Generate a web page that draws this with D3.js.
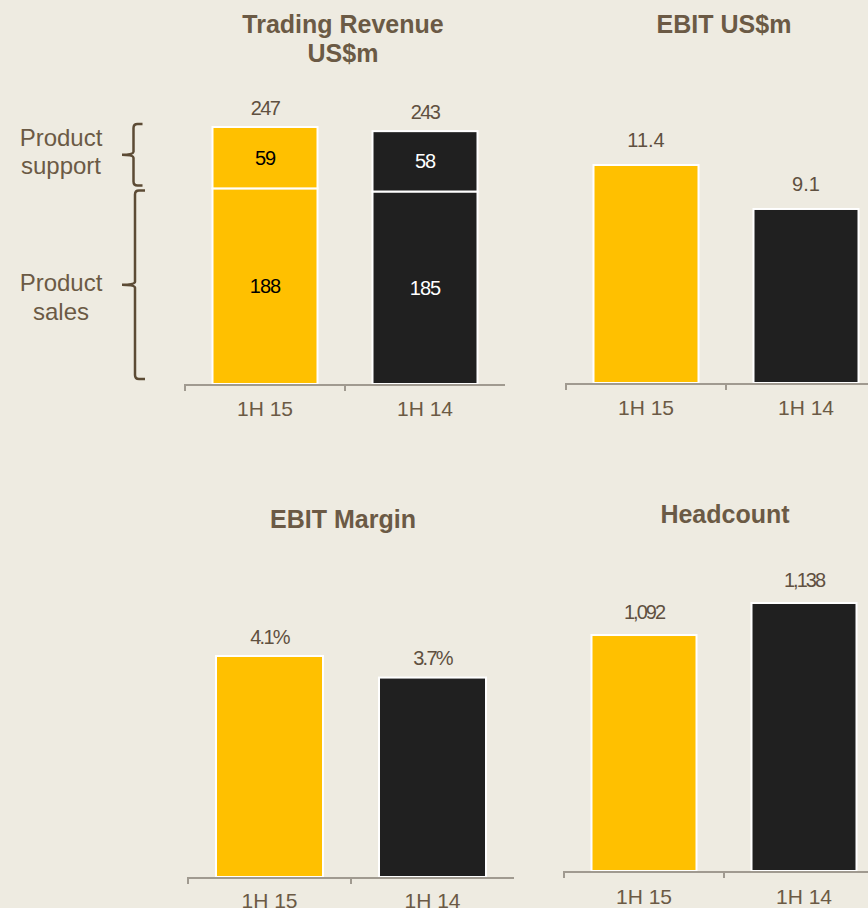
<!DOCTYPE html>
<html><head><meta charset="utf-8">
<script src="https://cdn.jsdelivr.net/npm/d3@7/dist/d3.min.js"></script>
<style>
html,body{margin:0;padding:0;background:#eeebe1;}
svg{display:block;font-family:"Liberation Sans",Arial,sans-serif;}
</style></head><body>
<script>
const categories = ["1H 15", "1H 14"];
const productSales = [188, 185];
const productSupport = [59, 58];
const revenueTotals = [247, 243];
const ebit = [11.4, 9.1];
const ebitMargin = [4.1, 3.7];
const headcount = [1092, 1138];
const headcountAxisMin = 753;
const segmentNames = [["Product", "support"], ["Product", "sales"]];

const W = 868, H = 908;
const YELLOW = "#ffc000", BLACK = "#202020", BROWN = "#6b5a45", AXIS = "#a09a90";
const svg = d3.select("body").append("svg").attr("width", W).attr("height", H);
svg.append("rect").attr("width", W).attr("height", H).attr("fill", "#eeebe1");

function panel(opts) {
  const g = svg.append("g");
  const x = d3.scaleBand().domain(categories).range(opts.xr).paddingInner(0).paddingOuter(0);
  const y = d3.scaleLinear().domain(opts.yd).range(opts.yr);
  const base = opts.yr[0];
  opts.title.forEach((t, i) => {
    g.append("text").attr("x", opts.titleX).attr("y", opts.titleY + i * 28.5)
      .attr("text-anchor", "middle").attr("font-size", 25).attr("font-weight", "bold")
      .attr("fill", BROWN).text(t);
  });
  const bw = opts.bw;
  const colors = [YELLOW, BLACK];
  if (opts.stack) {
    categories.forEach((c, i) => {
      const cx = x(c) + x.bandwidth() / 2;
      const s = opts.stack[0][i], t = opts.stack[1][i];
      g.append("rect").attr("x", cx - bw / 2).attr("y", y(s)).attr("width", bw)
        .attr("height", base - y(s)).attr("fill", colors[i]).attr("stroke", "#fff").attr("stroke-width", 2);
      g.append("rect").attr("x", cx - bw / 2).attr("y", y(s + t)).attr("width", bw)
        .attr("height", y(s) - y(s + t)).attr("fill", colors[i]).attr("stroke", "#fff").attr("stroke-width", 2);
      const inCol = i === 0 ? "#000" : "#fff";
      g.append("text").attr("x", cx).attr("y", (y(s) + base) / 2).attr("dy", "0.35em")
        .attr("text-anchor", "middle").attr("font-size", 20).attr("letter-spacing", -1).attr("fill", inCol).text(s);
      g.append("text").attr("x", cx).attr("y", (y(s) + y(s + t)) / 2).attr("dy", "0.35em")
        .attr("text-anchor", "middle").attr("font-size", 20).attr("letter-spacing", -1).attr("fill", inCol).text(t);
    });
  } else {
    categories.forEach((c, i) => {
      const cx = x(c) + x.bandwidth() / 2;
      g.append("rect").attr("x", cx - bw / 2).attr("y", y(opts.values[i])).attr("width", bw)
        .attr("height", base - y(opts.values[i])).attr("fill", colors[i]).attr("stroke", "#fff").attr("stroke-width", 2);
    });
  }
  categories.forEach((c, i) => {
    const cx = x(c) + x.bandwidth() / 2;
    g.append("text").attr("x", cx).attr("y", y(opts.totals[i]) - opts.labelOff).attr("dy", "0.35em")
      .attr("text-anchor", "middle").attr("font-size", 20).attr("letter-spacing", opts.ls)
      .attr("fill", "#5f5040").text(opts.fmt(opts.totals[i]));
  });
  g.append("line").attr("x1", opts.xr[0]).attr("x2", opts.xr[1]).attr("y1", base + 1).attr("y2", base + 1)
    .attr("stroke", AXIS).attr("stroke-width", 2);
  categories.forEach(c => {
    g.append("line").attr("x1", x(c)).attr("x2", x(c)).attr("y1", base).attr("y2", base + 7)
      .attr("stroke", AXIS).attr("stroke-width", 2);
    g.append("text").attr("x", x(c) + x.bandwidth() / 2).attr("y", base + opts.tickOff).attr("dy", "0.35em")
      .attr("text-anchor", "middle").attr("font-size", 21).attr("fill", BROWN).text(c);
  });
  return { x, y };
}

const p1 = panel({ xr: [185, 505], yd: [0, 247], yr: [384, 127], bw: 105,
  stack: [productSales, productSupport], totals: revenueTotals, labelOff: 19, ls: -1.6, tickOff: 25,
  fmt: d => d, title: ["Trading Revenue", "US$m"], titleX: 343, titleY: 33 });
panel({ xr: [566, 886], yd: [0, 11.4], yr: [383, 165], bw: 105, values: ebit, totals: ebit,
  labelOff: 25, ls: 0, tickOff: 25, fmt: d3.format(".1f"), title: ["EBIT US$m"], titleX: 724, titleY: 33 });
panel({ xr: [188, 514], yd: [0, 4.1], yr: [877, 656], bw: 107, values: ebitMargin, totals: ebitMargin,
  labelOff: 19.5, ls: -1.8, tickOff: 24, fmt: d => d3.format(".1f")(d) + "%", title: ["EBIT Margin"], titleX: 343, titleY: 528 });
panel({ xr: [564, 884], yd: [headcountAxisMin, 1138], yr: [871, 603], bw: 105, values: headcount, totals: headcount,
  labelOff: 23, ls: -2, tickOff: 25.5, fmt: d3.format(","), title: ["Headcount"], titleX: 725, titleY: 523 });

const y1 = p1.y;
function brace(top, bot, xb, tip, ext) {
  const mid = (top + bot) / 2, c = 4;
  const path = `M${xb + ext},${top} L${xb + c},${top} Q${xb},${top} ${xb},${top + c} L${xb},${mid - 3} Q${xb},${mid} ${tip},${mid}` +
    ` M${tip},${mid} Q${xb},${mid} ${xb},${mid + 3} L${xb},${bot - c} Q${xb},${bot} ${xb + c},${bot} L${xb + ext},${bot}`;
  svg.append("path").attr("d", path).attr("fill", "none").attr("stroke", "#5c4b35").attr("stroke-width", 2.5);
}
const b1 = [y1(247) - 3, y1(188) - 3], b2 = [y1(188) + 2, y1(0) - 5];
brace(b1[0], b1[1], 133.5, 122, 9);
brace(b2[0], b2[1], 135, 122, 10);
const braceMids = [(b1[0] + b1[1]) / 2, (b2[0] + b2[1]) / 2];
const lineOffsets = [[-17, 10.5], [-2.5, 26.5]];
segmentNames.forEach((lines, k) => {
  lines.forEach((l, i) => {
    svg.append("text").attr("x", 61).attr("y", braceMids[k] + lineOffsets[k][i]).attr("dy", "0.35em")
      .attr("text-anchor", "middle").attr("font-size", 24).attr("fill", BROWN).text(l);
  });
});
</script>
</body></html>
